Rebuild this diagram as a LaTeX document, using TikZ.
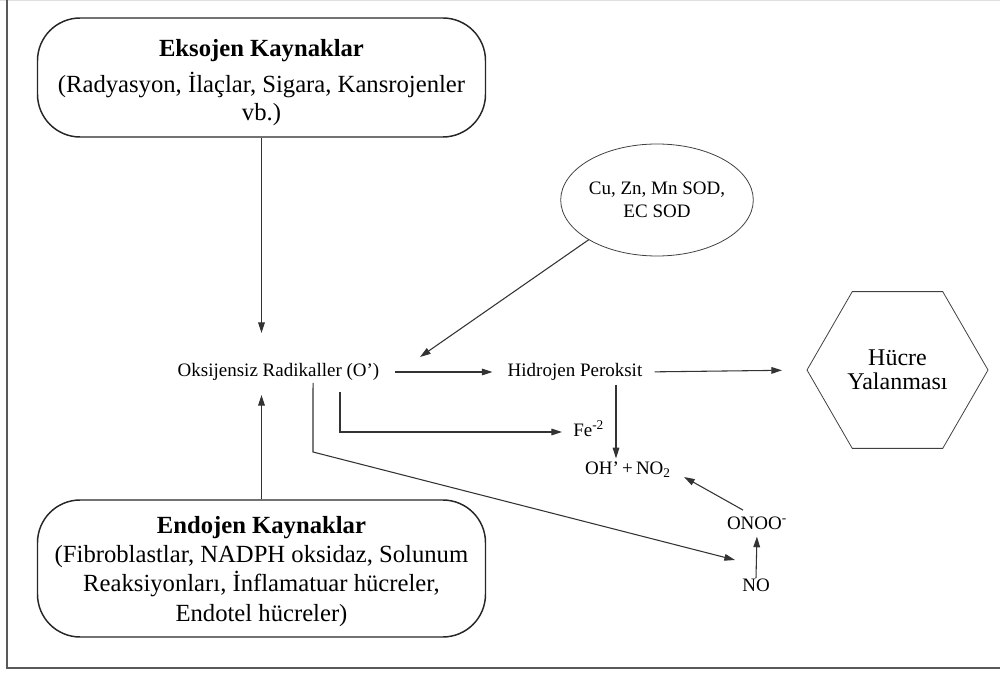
\documentclass[tikz,border=0pt]{standalone}
\usepackage{fontspec}
\setmainfont{Liberation Serif}
\usetikzlibrary{arrows.meta,shapes.geometric}
\begin{document}
\begin{tikzpicture}[x=0.75pt,y=-0.75pt,
  conn/.style={draw=black!80, line width=0.8pt},
  arr/.style={conn,-{Triangle[length=8pt,width=5pt]}},
  srcbox/.style={draw=black!85, line width=1.1pt, rounded corners=32pt, minimum width=336pt, align=center, inner sep=0pt},
  lbl/.style={inner sep=0pt, text height=10pt, text depth=3pt, font=\fontsize{14.25}{17}\selectfont},
  thinshape/.style={draw=black!75, line width=0.6pt, inner sep=0pt, outer sep=0pt, align=center},
]
\useasboundingbox (0,0) rectangle (1000,673);
\draw[gray!25, line width=1pt] (0,0.7) -- (1000,0.7);
\draw[black!65, line width=1.2pt] (7,0) -- (7,668) -- (1000,668);

% source boxes
\node[srcbox, minimum height=89.25pt, font=\fontsize{18.5}{20.5}\selectfont] (eks) at (261.5,77.5)
  {\rule{0pt}{20pt}\textbf{Eksojen Kaynaklar}\\[7pt](Radyasyon, İlaçlar, Sigara, Kansrojenler\\vb.)};
\node[srcbox, minimum height=102.75pt, font=\fontsize{18.5}{22}\selectfont] (end) at (261.5,568.5)
  {\rule{0pt}{17pt}\textbf{Endojen Kaynaklar}\\(Fibroblastlar, NADPH oksidaz, Solunum\\Reaksiyonları, İnflamatuar hücreler,\\Endotel hücreler)};

% labels
\node[lbl] (oks) at (278.5,372) {Oksijensiz Radikaller (O’)};
\node[lbl] (hid) at (575,372) {Hidrojen Peroksit};
\node[lbl, anchor=west] (fe) at (573,432) {Fe\textsuperscript{-2}};
\node[lbl] (oh) at (628,470) {OH’\,+\,NO\textsubscript{2}};
\node[lbl] (onoo) at (757,525) {ONOO\textsuperscript{-}};
\node[lbl] (no) at (756,587) {NO};

% ellipse and hexagon
\node[thinshape, ellipse, minimum width=138pt, minimum height=84pt, font=\fontsize{14.25}{17.25}\selectfont] (sod) at (657,200)
  {Cu, Zn, Mn SOD,\\EC SOD};
\node[thinshape, regular polygon, regular polygon sides=6, minimum size=135.75pt, font=\fontsize{18}{18}\selectfont] (hex) at (897.5,370)
  {Hücre\\Yalanması};

% helper coordinates
\coordinate (sodtip) at (420,357);
\coordinate (bend) at (313,452);
\coordinate (notip) at (735,560);

% connectors
\draw[arr, shorten >=29.25pt] (eks.south) -- (eks.south |- oks.center);
\draw[arr, shorten >=17.25pt] (end.north) -- (end.north |- oks.center);
\draw[arr, shorten <=11.25pt, shorten >=11.25pt] (oks.east) -- (hid.west);
\draw[arr] (sod.south west) -- (sodtip);
\draw[arr, shorten <=9pt, shorten >=18.75pt] (hid.east) -- (hex.west);
\draw[arr, shorten <=3pt, shorten >=2pt] ([xshift=30.75pt]hid.south) -- ([xshift=30.75pt]hid.south |- oh.north);
\draw[arr, shorten <=8.5pt, shorten >=8.25pt] ([xshift=46.1pt]oks.south) |- (fe.west);
\draw[arr, shorten <=1.5pt] ([xshift=25.9pt]oks.south) -- (bend) -- (notip);
\draw[arr, shorten >=2pt] (no.north) -- (onoo.south);
\draw[arr] ([shift={(-10.5pt,4.5pt)}]onoo.north) -- ([shift={(9.75pt,-5.25pt)}]oh.east);
\end{tikzpicture}
\end{document}
